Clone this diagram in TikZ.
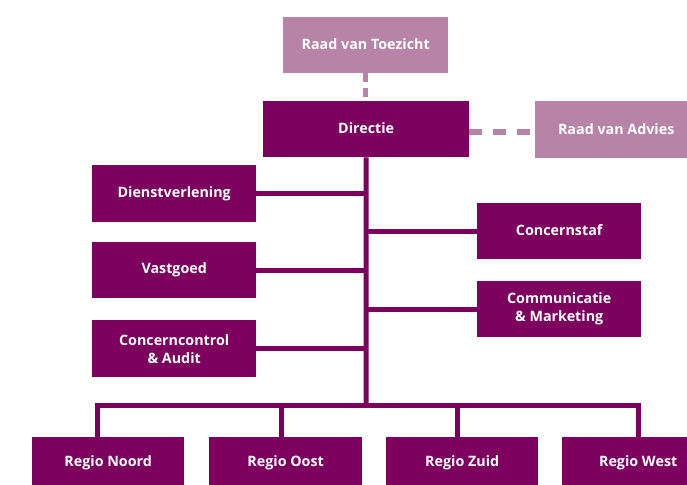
\documentclass[tikz,border=0pt]{standalone}
\usepackage{fontspec}
\setmainfont{Open Sans}
\definecolor{dark}{RGB}{125,0,95}
\definecolor{light}{RGB}{183,132,167}
\begin{document}
\begin{tikzpicture}[x=1pt,y=-1pt,
  box/.style={fill=dark,text=white,font=\bfseries\fontsize{14.3}{18}\selectfont,align=center,inner sep=0pt,anchor=north west},
  lbox/.style={box,fill=light},
  conn/.style={draw=dark,line width=5pt},
  dconn/.style={draw=light,line width=5.5pt}]
\useasboundingbox (0,0) rectangle (687,484);
\clip (0,0) rectangle (687,484);
\node[lbox,minimum width=165pt,minimum height=56pt] (tz) at (283,17) {\raisebox{1.5pt}{Raad van Toezicht}};
\node[box,minimum width=206pt,minimum height=56pt] (dir) at (263,101) {\raisebox{1.5pt}{Directie}};
\node[lbox,minimum width=162pt,minimum height=57pt] (adv) at (535,101) {\raisebox{1.5pt}{Raad van Advies}};
\node[box,minimum width=164pt,minimum height=57pt] (dv) at (92,165) {\raisebox{1.5pt}{Dienstverlening}};
\node[box,minimum width=164pt,minimum height=56pt] (vg) at (92,242) {\raisebox{1.5pt}{Vastgoed}};
\node[box,minimum width=164pt,minimum height=57pt] (cc) at (92,320) {Concerncontrol\\\& Audit};
\node[box,minimum width=164pt,minimum height=56pt] (cs) at (477,203) {\raisebox{1.5pt}{Concernstaf}};
\node[box,minimum width=164pt,minimum height=56pt] (cm) at (477,281) {Communicatie\\\& Marketing};
\node[box,minimum width=152pt,minimum height=52pt] (rn) at (32,437) {\raisebox{5pt}{Regio Noord}};
\node[box,minimum width=153pt,minimum height=52pt] (ro) at (209,437) {\raisebox{5pt}{Regio Oost}};
\node[box,minimum width=152pt,minimum height=52pt] (rz) at (386,437) {\raisebox{5pt}{Regio Zuid}};
\node[box,minimum width=152pt,minimum height=52pt] (rw) at (562,437) {\raisebox{5pt}{Regio West}};
\coordinate (bus) at (366,405);
\draw[dconn,dash pattern=on 9pt off 6pt] (tz.south) -- (tz.south |- dir.north);
\draw[dconn,dash pattern=on 13pt off 11pt] ([yshift=-3pt]dir.east) -- ([yshift=-3pt]dir.east -| adv.west);
\draw[conn] (dir.south) -- (bus);
\draw[conn] (dv.east) -- (dv.east -| bus);
\draw[conn] (vg.east) -- (vg.east -| bus);
\draw[conn] (cc.east) -- (cc.east -| bus);
\draw[conn] (cs.west) -- (cs.west -| bus);
\draw[conn] (cm.west) -- (cm.west -| bus);
\draw[conn,line cap=rect] ([xshift=-11pt]rn.north) -- ([xshift=-11pt]rn.north |- bus) -- (rw.north |- bus) -- (rw.north);
\draw[conn] ([xshift=-4pt]ro.north) -- ([xshift=-4pt]ro.north |- bus);
\draw[conn] ([xshift=-5pt]rz.north) -- ([xshift=-5pt]rz.north |- bus);
\end{tikzpicture}
\end{document}
